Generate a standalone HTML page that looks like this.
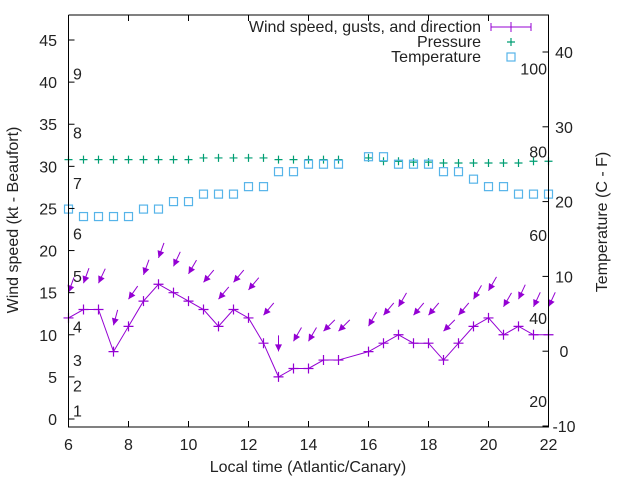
<!DOCTYPE html>
<html><head><meta charset="utf-8"><style>
html,body{margin:0;padding:0;background:#fff;}
svg{display:block;font-family:"Liberation Sans",sans-serif;}
</style></head><body>
<svg id="chart" width="640" height="480" viewBox="0 0 640 480" xmlns="http://www.w3.org/2000/svg">
<rect x="0" y="0" width="640" height="480" fill="#fff"/>
<g id="marks"></g>
<g id="axes"></g>
</svg>
<script>
const times = [6,6.5,7,7.5,8,8.5,9,9.5,10,10.5,11,11.5,12,12.5,13,13.5,14,14.5,15,16,16.5,17,17.5,18,18.5,19,19.5,20,20.5,21,21.5,22];
const windSpeed = [12,13,13,8,11,14,16,15,14,13,11,13,12,9,5,6,6,7,7,8,9,10,9,9,7,9,11,12,10,11,10,10];
const gustSpeed = [15.5,16.6,16.6,11.6,14.7,17.6,19.6,18.6,17.7,16.7,14.7,16.7,15.8,12.8,8.5,9.7,9.7,10.9,10.9,11.5,12.8,13.8,12.8,12.8,10.9,12.8,14.7,15.7,13.8,14.7,13.8,13.8];
const windDir = [20,20,25,15,35,20,20,25,30,40,40,40,40,40,0,30,30,45,45,30,40,30,40,40,45,40,30,30,30,25,25,25];
const pressTimes = [6,6.5,7,7.5,8,8.5,9,9.5,10,10.5,11,11.5,12,12.5,13,13.5,14,14.5,15,16,16.5,17,17.5,18,18.5,19,19.5,20,20.5,21,21.5,22];
const pressure = [30.8,30.8,30.8,30.8,30.8,30.8,30.8,30.8,30.8,31.0,31.0,31.0,31.0,31.0,30.8,30.8,30.8,30.8,30.8,31.0,30.6,30.6,30.5,30.5,30.4,30.4,30.4,30.4,30.4,30.4,30.6,30.6];
const tempTimes = [6,6.5,7,7.5,8,8.5,9,9.5,10,10.5,11,11.5,12,12.5,13,13.5,14,14.5,15,16,16.5,17,17.5,18,18.5,19,19.5,20,20.5,21,21.5,22];
const temperature = [19,18,18,18,18,19,19,20,20,21,21,21,22,22,24,24,25,25,25,26,26,25,25,25,24,24,23,22,22,21,21,21];
const xTicks = [6,8,10,12,14,16,18,20,22];
const yTicks = [0,5,10,15,20,25,30,35,40,45];
const y2Ticks = [-10,0,10,20,30,40];
const fLabels = ["100","80","60","40","20"];
const fValues = [100,80,60,40,20];
const bftLabels = ["1","2","3","4","5","6","7","8","9"];
const bftValues = [1,4,7,11,17,22,28,34,41];

const L=68.5,R=548.5,T=15,B=427;
const FS=16;
const X=t=>L+(t-6)*(R-L)/16;
const Y=v=>419-v*8.422;
const Y2=c=>426-(c+10)*7.48;
const NS="http://www.w3.org/2000/svg";
const marks=document.getElementById('marks'), axes=document.getElementById('axes');
function mk(tag,attrs,parent){const e=document.createElementNS(NS,tag);for(const k in attrs)e.setAttribute(k,attrs[k]);parent.appendChild(e);return e;}
const PURPLE="#9400d3",GREEN="#009e73",BLUE="#56b4e9";

bftLabels.forEach((s,i)=>{const t=mk('text',{x:73,y:Y(bftValues[i])+6,'font-size':FS,fill:'#222'},axes);t.textContent=s;

});
fLabels.forEach((s,i)=>{const c=(fValues[i]-32)*5/9;const t=mk('text',{x:547,y:Y2(c)+6,'font-size':FS,fill:'#222','text-anchor':'end'},axes);t.textContent=s;

});

pressTimes.forEach((t,i)=>{const x=X(t),y=Y(pressure[i]);const p=mk('path',{d:`M${x-4},${y}h8M${x},${y-4}v8`,stroke:GREEN,'stroke-width':1.2,fill:'none'},marks);

});
tempTimes.forEach((t,i)=>{const r=mk('rect',{x:X(t)-4,y:Y2(temperature[i])-4,width:8,height:8,stroke:BLUE,'stroke-width':1.2,fill:'none'},marks);

});
const pl=mk('polyline',{points:times.map((t,i)=>X(t)+','+Y(windSpeed[i])).join(' '),stroke:PURPLE,'stroke-width':1,fill:'none'},marks);


times.forEach((t,i)=>{const x=X(t),y=Y(windSpeed[i]);const p=mk('path',{d:`M${x-5},${y}h10M${x},${y-5}v10`,stroke:PURPLE,'stroke-width':1.2,fill:'none'},marks);

});
times.forEach((t,i)=>{const x=X(t),y=Y(gustSpeed[i])+4;const a=windDir[i]*Math.PI/180;const ux=Math.sin(a),uy=-Math.cos(a);
const len=16;const g=mk('g',{},marks);


mk('line',{x1:x,y1:y,x2:x+ux*len,y2:y+uy*len,stroke:PURPLE,'stroke-width':1},g);
const hl=7,hw=3.5;const bx=x+ux*hl,by=y+uy*hl;const px=-uy,py=ux;
mk('polygon',{points:`${x},${y} ${bx+px*hw},${by+py*hw} ${bx-px*hw},${by-py*hw}`,fill:PURPLE},g);});

mk('path',{d:`M${L},${T}V${B}H${R}V${T}H${L}`,stroke:'#000','stroke-width':1,fill:'none'},axes);
xTicks.forEach(t=>{const x=X(t);mk('path',{d:`M${x},${B}v-6M${x},${T}v6`,stroke:'#000'},axes);
const tx=mk('text',{x:x,y:450,'font-size':FS,'text-anchor':'middle',fill:'#222'},axes);tx.textContent=t;

});
yTicks.forEach(v=>{const y=Y(v);mk('path',{d:`M${L},${y}h6`,stroke:'#000'},axes);
const tx=mk('text',{x:57,y:y+6,'font-size':FS,'text-anchor':'end',fill:'#222'},axes);tx.textContent=v;

});
y2Ticks.forEach(v=>{const y=Y2(v);mk('path',{d:`M${R},${y}h-6`,stroke:'#000'},axes);
const tx=mk('text',{x:564,y:y+6,'font-size':FS,'text-anchor':'middle',fill:'#222'},axes);tx.textContent=v;

});
</script>
<svg style="position:absolute;left:0;top:0" width="640" height="480">
<text x="308" y="472" font-size="16" text-anchor="middle" fill="#222" font-family="Liberation Sans">Local time (Atlantic/Canary)</text>
<text transform="translate(18,220) rotate(-90)" font-size="16" text-anchor="middle" fill="#222" font-family="Liberation Sans">Wind speed (kt - Beaufort)</text>
<text transform="translate(607,222) rotate(-90)" font-size="16" text-anchor="middle" fill="#222" font-family="Liberation Sans">Temperature (C - F)</text>
<g font-family="Liberation Sans" font-size="16" fill="#222">
<text x="481" y="32" text-anchor="end">Wind speed, gusts, and direction</text>
<path d="M491,27h40M491,23v8M531,23v8M511,22v10" stroke="#9400d3" fill="none"/>
<text x="481" y="47" text-anchor="end">Pressure</text>
<path d="M507,42h8M511,38v8" stroke="#009e73" stroke-width="1.2" fill="none"/>
<text x="481" y="62" text-anchor="end">Temperature</text>
<rect x="507" y="53" width="8" height="8" stroke="#56b4e9" stroke-width="1.2" fill="none"/>
</g>
</svg>
</body></html>
